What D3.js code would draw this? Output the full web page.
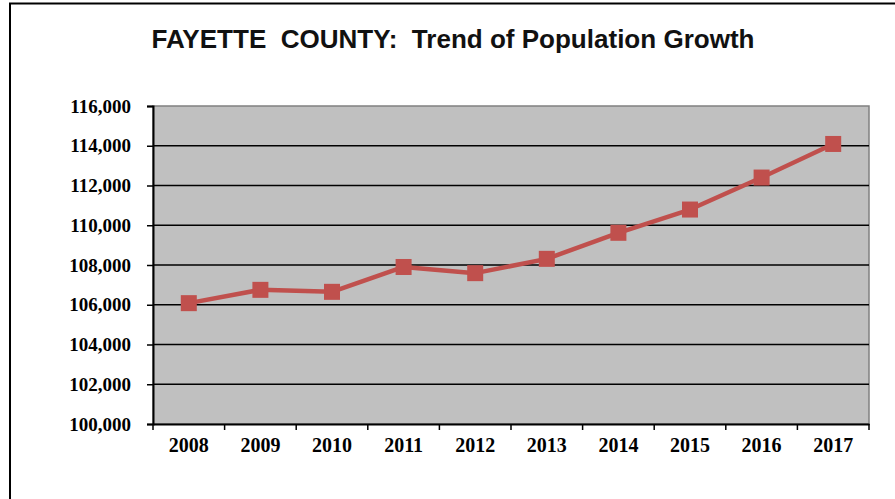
<!DOCTYPE html>
<html>
  <head>
    <meta charset="UTF-8">
    <title>Fayette County population</title>
    <script src="https://cdnjs.cloudflare.com/ajax/libs/d3/7.8.5/d3.min.js"></script>
    <style>
      body { margin: 0; background: #fff; }
      svg { display: block; }
      .title { font-family: "Liberation Sans", Arial, sans-serif; font-weight: bold; font-size: 25px; fill: #111; }
      .tick text { font-family: "Liberation Serif", "Times New Roman", serif; font-weight: bold; font-size: 19px; fill: #000; }
      .x-axis .tick text { font-size: 20px; }
      .grid line { stroke: #000; stroke-width: 1.5; }
    </style>
  </head>
  <body>
    <div id="chart"></div>
    <script>
      const years = ["2008", "2009", "2010", "2011", "2012", "2013", "2014", "2015", "2016", "2017"];
      const population = [106080, 106750, 106650, 107900, 107590, 108310, 109620, 110790, 112400, 114090];
      const yTicks = [100000, 102000, 104000, 106000, 108000, 110000, 112000, 114000, 116000];

      const width = 895, height = 499;
      const margin = {top: 106, right: 26, bottom: 75, left: 153};
      const innerWidth = width - margin.left - margin.right;
      const innerHeight = height - margin.top - margin.bottom;

      const svg = d3.select("#chart").append("svg")
        .attr("width", width)
        .attr("height", height);

      // outer frame (top and left edges only)
      svg.append("path")
        .attr("d", `M10,${height}V3.5H${width}`)
        .attr("fill", "none")
        .attr("stroke", "#000")
        .attr("stroke-width", 2);

      svg.append("text")
        .attr("class", "title")
        .attr("x", 453)
        .attr("y", 48)
        .attr("text-anchor", "middle")
        .attr("textLength", 603)
        .attr("lengthAdjust", "spacingAndGlyphs")
        .attr("xml:space", "preserve")
        .text("FAYETTE  COUNTY:  Trend of Population Growth");

      const g = svg.append("g")
        .attr("transform", `translate(${margin.left},${margin.top})`);

      const x = d3.scaleBand().domain(years).range([0, innerWidth]);
      const y = d3.scaleLinear().domain([100000, 116000]).range([innerHeight, 0]);

      g.append("rect")
        .attr("width", innerWidth)
        .attr("height", innerHeight)
        .attr("fill", "#c0c0c0")
        .attr("stroke", "#808080")
        .attr("stroke-width", 1.5);

      // horizontal gridlines
      g.append("g")
        .attr("class", "grid")
        .selectAll("line")
        .data(yTicks.slice(1, -1))
        .join("line")
        .attr("x1", 0)
        .attr("x2", innerWidth)
        .attr("y1", d => y(d))
        .attr("y2", d => y(d));

      // y axis
      const yAxis = g.append("g")
        .call(d3.axisLeft(y).tickValues(yTicks).tickFormat(d3.format(",")).tickSize(6).tickPadding(16));
      yAxis.select(".domain").attr("stroke", "#000").attr("stroke-width", 2);
      yAxis.selectAll(".tick line").attr("stroke", "#000").attr("stroke-width", 1.5);

      // x axis, ticks at category boundaries
      const xAxis = g.append("g")
        .attr("class", "x-axis")
        .attr("transform", `translate(0,${innerHeight})`)
        .call(d3.axisBottom(x).tickSize(0).tickPadding(13));
      xAxis.select(".domain").attr("stroke", "#000").attr("stroke-width", 2);
      xAxis.selectAll(".tick text").attr("dy", "0.75em");
      xAxis.selectAll(".bound")
        .data(years.concat("end"))
        .join("line")
        .attr("class", "bound")
        .attr("x1", (d, i) => i * x.step())
        .attr("x2", (d, i) => i * x.step())
        .attr("y1", 0)
        .attr("y2", 6)
        .attr("stroke", "#000")
        .attr("stroke-width", 1.5);

      const cx = d => x(d) + x.bandwidth() / 2;

      g.append("path")
        .datum(population)
        .attr("fill", "none")
        .attr("stroke", "#c0504d")
        .attr("stroke-width", 4.5)
        .attr("stroke-linejoin", "round")
        .attr("d", d3.line().x((d, i) => cx(years[i])).y(d => y(d)));

      const size = 16;
      g.selectAll(".marker")
        .data(population)
        .join("rect")
        .attr("class", "marker")
        .attr("x", (d, i) => cx(years[i]) - size / 2)
        .attr("y", d => y(d) - size / 2)
        .attr("width", size)
        .attr("height", size)
        .attr("fill", "#c0504d");
    </script>
  </body>
</html>
